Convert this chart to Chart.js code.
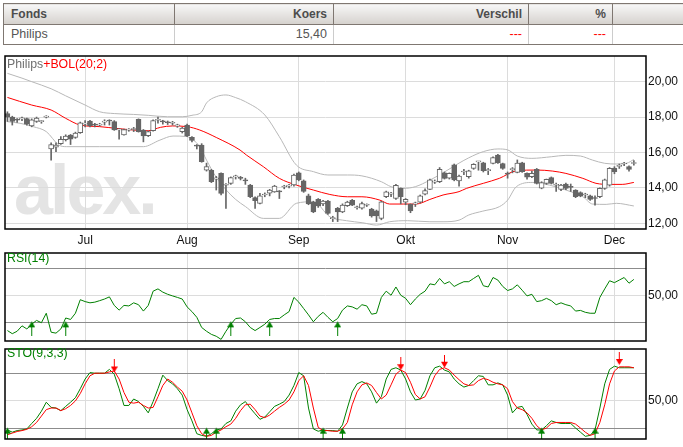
<!DOCTYPE html>
<html>
<head>
<meta charset="utf-8">
<script src="https://cdn.jsdelivr.net/npm/chart.js@4.4.1/dist/chart.umd.min.js"></script>
<style>
    body { margin: 0; background: #fff; width: 683px; height: 447px; overflow: hidden; position: relative; font-family: "Liberation Sans", Arial, sans-serif; }
    #quote { position: absolute; left: 3px; top: 3px; width: 720px; border-collapse: collapse; table-layout: fixed; font-family: "Liberation Sans", Arial, sans-serif; }
    #quote th, #quote td { padding: 0 6px 0 7px; text-align: right; line-height: 1; white-space: nowrap; overflow: hidden; }
    #quote tr.h { height: 21px; }
    #quote tr.d { height: 20px; }
    #quote th { background: linear-gradient(#f7f7f7, #d5d1cd); border: 1px solid #7f7771; color: #4d4d4d; font-weight: bold; font-size: 12px; }
    #quote td { border-left: 1px solid #cccccc; border-right: 1px solid #cccccc; border-bottom: 1px solid #7f7771; color: #555; font-size: 12.5px; }
    #quote td:first-child { border-left: 1px solid #7f7771; }
    #quote .l { text-align: left; }
    #quote .neg { color: #f00; }
    canvas { position: absolute; left: 0; z-index: 1; }
    #wm { position: absolute; left: 14px; top: 155px; font: bold 70px/70px "Liberation Sans", Arial, sans-serif; color: #e4e4e4; letter-spacing: -3px; z-index: 0; }
    .ttl { position: absolute; left: 7px; font-size: 12.3px; line-height: 14px; z-index: 2; }
</style>
</head>
<body>
<table id="quote">
    <colgroup><col style="width:171px"><col style="width:159px"><col style="width:195px"><col style="width:84px"><col style="width:111px"></colgroup>
    <tr class="h"><th class="l">Fonds</th><th>Koers</th><th>Verschil</th><th>%</th><th></th></tr>
    <tr class="d"><td class="l">Philips</td><td>15,40</td><td class="neg">---</td><td class="neg">---</td><td></td></tr>
</table>

<div id="wm">alex.</div>
<canvas id="priceChart" width="683" height="200" style="top:50px"></canvas>
<canvas id="rsiChart" width="683" height="98" style="top:248px"></canvas>
<canvas id="stoChart" width="683" height="103" style="top:344px"></canvas>

<div class="ttl" style="top:57px"><span style="color:#707070">Philips</span><span style="color:#f00">+BOL(20;2)</span></div>
<div class="ttl" style="top:251px;color:#008000">RSI(14)</div>
<div class="ttl" style="top:346px;color:#008000">STO(9,3,3)</div>

<script>
const FONT = '"Liberation Sans", Arial, sans-serif';

// x is the trading day number, month ticks sit on the first trading day
const monthIdx = [16, 37, 60, 82, 103, 125];
const monthNames = ['Jul', 'Aug', 'Sep', 'Okt', 'Nov', 'Dec'];
const priceTicks = [12, 14, 16, 18, 20];

const open = [18.2, 18.0, 17.85, 17.9, 17.92, 17.5, 17.75, 17.74, 18.0, 16.2,
    16.3, 16.5, 16.72, 16.99, 16.85, 17.12, 17.6, 17.78, 17.56, 17.55,
    17.72, 17.8, 17.74, 17.28, 17.0, 17.26, 17.3, 17.87, 17.27, 16.95,
    17.23, 17.82, 17.74, 17.7, 17.65, 17.5, 17.18, 17.55, 16.86, 16.38,
    16.42, 15.0, 15.0, 14.5, 14.82, 14.15, 14.26, 14.62, 14.55, 14.42,
    14.16, 13.45, 13.13, 13.6, 13.7, 13.78, 13.8, 14.05, 14.1, 14.17,
    14.85, 14.4, 13.56, 13.2, 13.35, 13.1, 13.25, 12.27, 12.85, 12.65,
    13.0, 13.3, 12.88, 12.85, 13.02, 12.8, 12.7, 12.28, 13.5, 13.65,
    13.4, 13.98, 13.2, 13.08, 13.1, 13.2, 13.65, 13.92, 14.33, 14.35,
    14.85, 14.55, 15.3, 14.4, 14.9, 14.63, 15.1, 15.47, 15.42, 14.98,
    15.38, 15.86, 15.38, 14.8, 15.03, 14.88, 15.42, 14.82, 14.63, 15.05,
    13.98, 14.26, 14.58, 14.15, 13.92, 14.22, 14.05, 13.88, 13.73, 13.6,
    13.55, 13.42, 13.5, 13.97, 14.16, 15.12, 15.22, 15.35, 15.2, 15.38];
const high = [18.3, 18.05, 17.92, 18.0, 17.95, 17.9, 18.0, 17.8, 18.08, 16.55,
    16.55, 16.9, 17.0, 17.02, 17.15, 17.72, 17.8, 17.82, 17.65, 17.65,
    17.85, 17.85, 17.8, 17.35, 17.32, 17.35, 17.42, 17.9, 17.3, 17.22,
    17.85, 18.0, 17.82, 17.78, 17.76, 17.6, 17.42, 17.6, 16.9, 16.45,
    16.5, 15.4, 15.05, 14.65, 14.85, 14.25, 14.62, 14.72, 14.65, 14.55,
    14.2, 13.5, 13.7, 13.72, 13.92, 14.15, 13.85, 14.15, 14.2, 14.78,
    14.9, 14.45, 13.65, 13.25, 13.4, 13.3, 13.3, 12.4, 12.9, 13.1,
    13.25, 13.35, 12.98, 13.2, 13.1, 12.85, 12.75, 13.25, 13.82, 13.75,
    14.2, 14.0, 13.4, 13.1, 13.2, 13.6, 13.95, 14.5, 14.45, 15.15,
    14.9, 14.85, 15.35, 14.72, 15.05, 15.0, 15.37, 15.5, 15.45, 15.1,
    15.76, 15.9, 15.4, 14.9, 15.15, 15.58, 15.45, 14.85, 14.95, 15.1,
    14.35, 14.5, 14.62, 14.28, 14.2, 14.28, 14.22, 13.9, 13.78, 13.7,
    13.6, 13.55, 14.0, 14.5, 15.15, 15.2, 15.35, 15.45, 15.25, 15.55];
const low = [17.75, 17.55, 17.7, 17.8, 17.55, 17.45, 17.7, 17.65, 17.95, 15.57,
    16.05, 16.45, 16.65, 16.45, 16.8, 17.08, 17.45, 17.45, 17.45, 17.5,
    17.55, 17.55, 17.25, 16.75, 16.98, 17.2, 17.18, 17.15, 16.6, 16.9,
    17.2, 17.65, 17.6, 17.58, 17.55, 17.42, 17.1, 16.9, 16.6, 16.2,
    15.45, 14.95, 14.3, 13.88, 13.6, 12.84, 14.2, 14.5, 14.45, 14.2,
    13.45, 12.84, 13.1, 13.5, 13.55, 13.75, 13.4, 13.95, 14.0, 14.1,
    14.4, 13.75, 13.05, 12.6, 12.9, 13.0, 12.5, 12.1, 12.1, 12.6,
    12.95, 13.0, 12.8, 12.8, 12.95, 12.35, 12.1, 12.2, 13.45, 13.5,
    13.35, 13.1, 13.05, 12.6, 12.95, 13.15, 13.6, 13.9, 14.25, 14.3,
    14.5, 14.5, 14.4, 14.1, 14.75, 14.55, 15.05, 15.0, 14.9, 14.75,
    15.35, 15.38, 15.05, 14.55, 14.85, 14.85, 14.88, 14.5, 14.58, 14.22,
    13.95, 14.2, 14.22, 13.8, 13.85, 13.9, 13.8, 13.45, 13.5, 13.45,
    13.3, 13.03, 13.45, 13.92, 14.1, 14.8, 15.1, 15.25, 14.95, 15.28];
const close = [18.0, 17.75, 17.83, 17.92, 17.6, 17.85, 17.95, 17.76, 18.02, 16.45,
    16.42, 16.75, 16.93, 16.75, 17.1, 17.68, 17.62, 17.5, 17.55, 17.57,
    17.75, 17.78, 17.27, 17.3, 17.3, 17.28, 17.32, 17.18, 16.93, 17.18,
    17.8, 17.85, 17.73, 17.68, 17.66, 17.52, 17.38, 16.93, 16.68, 16.36,
    15.48, 15.2, 14.35, 14.57, 13.69, 14.17, 14.58, 14.64, 14.54, 14.4,
    13.5, 13.28, 13.55, 13.62, 13.88, 14.1, 13.78, 14.07, 14.12, 14.73,
    14.45, 13.8, 13.1, 12.65, 12.98, 13.25, 12.56, 12.28, 12.65, 13.03,
    13.2, 13.03, 12.9, 13.12, 13.04, 12.42, 12.42, 13.22, 13.78, 13.7,
    14.15, 13.5, 13.35, 12.7, 13.12, 13.55, 13.85, 14.45, 14.35, 15.05,
    14.54, 14.82, 14.45, 14.67, 14.92, 14.97, 15.33, 15.48, 14.97, 15.0,
    15.72, 15.42, 15.1, 14.78, 15.05, 15.4, 14.92, 14.6, 14.82, 14.26,
    14.3, 14.48, 14.26, 14.17, 14.16, 13.97, 14.03, 13.5, 13.55, 13.61,
    13.35, 13.4, 13.97, 14.45, 15.1, 14.92, 15.24, 15.36, 15.05, 15.4];

// Bollinger bands at these day positions
const bolUpperX = [0, 3, 5, 9, 12, 16, 19, 22, 26, 29, 33, 36, 38, 40, 41, 43, 45, 47, 49, 53, 56, 59.5, 63, 66, 70, 73, 77, 79, 81.5, 84, 87, 90, 93, 95, 98, 101, 103, 105, 108, 112, 115, 118, 120.5, 123, 125.5, 127.5, 129];
const bolUpper = [20.47, 20.2, 20.0, 19.6, 19.2, 18.68, 18.3, 18.2, 18.15, 18.1, 18.02, 18.02, 18.1, 18.3, 18.8, 19.15, 19.25, 19.1, 18.87, 18.12, 16.89, 15.29, 14.92, 14.73, 14.73, 14.68, 14.35, 14.07, 13.97, 14.07, 14.44, 14.9, 15.4, 15.7, 16.05, 16.2, 16.15, 15.8, 15.67, 15.76, 15.84, 15.8, 15.57, 15.39, 15.35, 15.39, 15.61];
const bolMidX = [0, 5, 9, 12, 15, 19, 22.5, 26, 29, 31.5, 34, 37, 39.6, 43, 47.9, 49.2, 52.7, 56, 59.5, 63, 66.4, 70, 73, 76.7, 78.7, 81.5, 84.2, 87, 89.7, 93, 94.5, 98, 101.3, 104.8, 109, 112.3, 115, 118.5, 121.2, 124, 126.6, 129];
const bolMid = [19.11, 18.68, 18.4, 17.93, 17.55, 17.46, 17.36, 17.27, 17.23, 17.42, 17.5, 17.46, 17.27, 16.85, 16.14, 15.86, 15.2, 14.54, 14.16, 13.88, 13.63, 13.5, 13.5, 13.31, 13.09, 13.09, 13.09, 13.35, 13.6, 13.79, 13.97, 14.26, 14.54, 14.97, 15.01, 14.95, 14.82, 14.54, 14.26, 14.2, 14.2, 14.31];
const bolLowerX = [0, 2.6, 5.3, 8, 10.6, 12.2, 19, 28, 31.4, 34.1, 36.9, 38.3, 39.6, 41, 43, 45, 47, 49, 52.7, 56, 59.5, 63, 66.4, 69.8, 73.2, 76, 78.7, 82.4, 87, 89.7, 93, 95, 97.9, 101.3, 103, 104.8, 108.2, 111.6, 115, 118.5, 120.5, 123.3, 125.4, 129];
const bolLower = [17.74, 17.65, 17.46, 17.18, 16.42, 16.33, 16.33, 16.33, 16.7, 16.93, 16.9, 16.7, 16.33, 15.57, 14.6, 13.9, 13.35, 12.95, 12.28, 12.28, 13.13, 13.22, 12.37, 12.15, 12.03, 11.9, 12.09, 12.15, 12.09, 12.09, 12.18, 12.47, 12.69, 12.94, 13.31, 14.07, 14.31, 14.16, 13.88, 13.5, 13.09, 13.07, 13.13, 12.98];

const rsi = [23.9, 21.6, 23.4, 27.4, 25.1, 28.6, 31.4, 29.7, 36.7, 22.7,
    22.0, 25.1, 33.2, 32.1, 36.7, 46.7, 45.3, 44.4, 44.9, 46.0,
    47.2, 48.8, 42.5, 39.0, 42.5, 42.1, 44.4, 43.0, 38.3, 42.5,
    53.0, 54.7, 52.3, 50.7, 49.5, 48.4, 47.2, 41.4, 37.9, 33.7,
    26.2, 23.4, 21.1, 19.7, 17.4, 23.4, 28.6, 32.8, 33.2, 30.4,
    26.2, 23.9, 26.2, 28.6, 32.1, 32.8, 32.8, 35.5, 37.9, 48.4,
    44.9, 40.2, 35.5, 30.4, 34.4, 37.4, 33.7, 30.4, 32.8, 39.0,
    42.1, 41.4, 39.7, 43.0, 42.1, 36.0, 36.7, 48.4, 53.0, 50.0,
    56.1, 50.0, 47.7, 43.0, 47.2, 50.7, 53.0, 58.4, 57.7, 62.4,
    58.4, 60.0, 56.5, 58.4, 60.0, 60.0, 62.4, 64.7, 57.0, 56.1,
    63.1, 61.2, 56.5, 53.5, 54.7, 57.7, 53.7, 49.5, 50.7, 45.3,
    46.0, 47.7, 46.0, 43.0, 44.4, 43.0, 42.1, 38.3, 38.8, 37.4,
    36.7, 36.7, 48.4, 54.7, 60.7, 59.3, 61.2, 63.1, 58.9, 61.7];
const rsiLevels = [30, 50, 70];
const rsiBuy = [5, 12, 46, 54, 68];

const stoK = [18.6, 16.2, 17.9, 18.6, 19.7, 25.6, 31.2, 38.9, 48.6, 43.0,
    42.3, 39.5, 44.1, 48.6, 53.5, 63.2, 73.7, 80.7, 80.0, 80.0,
    80.0, 84.1, 78.9, 63.2, 45.1, 45.1, 52.1, 49.3, 44.1, 37.1,
    49.3, 63.2, 77.9, 72.0, 68.5, 63.2, 56.3, 40.6, 28.4, 14.5,
    12.7, 11.7, 14.5, 18.6, 19.7, 25.6, 28.4, 38.9, 45.8, 49.3,
    42.3, 36.1, 30.1, 32.6, 38.2, 44.1, 46.5, 49.3, 56.3, 66.7,
    80.7, 77.2, 42.3, 19.7, 17.2, 18.6, 17.9, 17.9, 17.2, 24.0,
    42.3, 59.8, 68.5, 70.9, 68.5, 59.8, 47.6, 54.5, 73.7, 84.1,
    85.9, 83.4, 73.7, 59.8, 51.0, 52.1, 61.5, 77.2, 85.9, 87.6,
    83.4, 81.4, 73.7, 68.5, 65.0, 66.7, 72.0, 77.2, 76.5, 67.4,
    67.4, 69.5, 67.4, 56.3, 37.1, 43.0, 44.1, 35.4, 24.9, 18.6,
    18.6, 23.2, 28.4, 26.7, 25.6, 25.6, 25.6, 20.7, 16.2, 11.7,
    12.7, 18.6, 42.3, 68.5, 84.1, 87.6, 85.9, 85.9, 85.9, 85.9];
const stoD = [13.4, 15.2, 16.9, 17.9, 19.3, 22.1, 26.7, 33.6, 40.6, 42.3,
    42.3, 39.5, 41.6, 45.1, 50.0, 58.0, 68.5, 77.2, 80.0, 80.0,
    80.0, 81.4, 82.4, 73.7, 59.1, 48.6, 47.6, 48.6, 45.1, 42.3,
    43.0, 54.5, 66.7, 73.7, 70.2, 65.0, 60.5, 51.0, 37.1, 23.2,
    14.5, 11.7, 12.7, 16.2, 18.6, 22.1, 24.9, 31.2, 39.5, 45.8,
    46.5, 40.6, 33.6, 31.9, 34.7, 38.9, 43.0, 46.5, 51.0, 59.8,
    72.0, 77.2, 66.7, 42.3, 21.4, 17.9, 17.9, 17.2, 17.2, 19.7,
    26.7, 45.8, 59.8, 67.4, 69.5, 66.7, 59.1, 52.1, 56.3, 67.4,
    78.9, 83.4, 80.7, 70.2, 57.0, 52.1, 54.5, 65.0, 77.2, 84.1,
    85.9, 83.4, 77.9, 73.0, 68.5, 66.7, 67.4, 72.0, 74.4, 73.0,
    70.2, 68.5, 67.4, 63.2, 49.3, 42.3, 40.6, 37.1, 31.2, 23.2,
    18.6, 20.7, 25.6, 26.7, 26.7, 26.7, 26.7, 24.9, 20.7, 16.2,
    12.7, 14.5, 26.7, 45.8, 68.5, 82.4, 86.9, 86.9, 86.9, 85.9];
const stoLevels = [20, 50, 80];
const stoBuy = [0, 41, 43, 65, 69, 110, 121];
const stoSell = [22, 81, 90, 126];
const stoSellAt = [81.9, 84.3, 87, 90];

/* small arrow images used as point styles, the tip sits in the middle */
function arrowImg(color, up) {
    const c = document.createElement('canvas');
    c.width = 7;
    c.height = up ? 28 : 24;
    const g = c.getContext('2d');
    g.fillStyle = color;
    g.beginPath();
    if (up) {
        g.moveTo(3.5, 13); g.lineTo(7, 19); g.lineTo(0, 19);
        g.closePath(); g.fill();
        g.fillRect(3, 19, 1, 9);
    } else {
        g.moveTo(0, 7); g.lineTo(7, 7); g.lineTo(3.5, 13);
        g.closePath(); g.fill();
        g.fillRect(3, 0, 1, 7);
    }
    return c;
}
const greenUp = arrowImg('#008000', true);
const redDown = arrowImg('#ff0000', false);

const boxPlugin = {
    id: 'box',
    afterDraw(chart) {
        const { ctx, chartArea: a } = chart;
        ctx.save();
        ctx.strokeStyle = '#000';
        ctx.lineWidth = 1.5;
        ctx.strokeRect(a.left, a.top, a.right - a.left, a.bottom - a.top);
        ctx.restore();
    }
};

function xAxis(showLabels) {
    return {
        type: 'linear', min: -0.5, max: 131.5, offset: false,
        afterBuildTicks: s => { s.ticks = monthIdx.map(v => ({ value: v })); },
        grid: { color: '#dcdcdc', drawTicks: false, offset: false },
        border: { display: false },
        ticks: {
            display: showLabels, autoSkip: false, maxRotation: 0, padding: 4,
            color: '#111', font: { family: FONT, size: 12 },
            callback: v => monthNames[monthIdx.indexOf(v)]
        },
        afterFit: s => {
            s.height = showLabels ? 21 : 0;
            s.paddingLeft = 0;
            s.paddingRight = 0;
        }
    };
}

// no label overhang: the chart area is set by the layout padding alone
function fixY(s) {
    s.width = 37;
    s.paddingTop = 0;
    s.paddingBottom = 0;
}

function levelAxis(min, max, levels) {
    return {
        position: 'right', min: min, max: max, beginAtZero: false,
        afterBuildTicks: s => { s.ticks = levels.map(v => ({ value: v })); },
        grid: {
            drawTicks: false,
            color: c => c.tick && c.tick.value === 50 ? '#dcdcdc' : '#8c8c8c'
        },
        border: { display: false },
        ticks: {
            padding: 2, color: '#111', font: { family: FONT, size: 12 },
            callback: v => v === 50 ? '50,00' : ''
        },
        afterFit: fixY
    };
}

const baseOptions = {
    responsive: false,
    animation: false,
    events: [],
    plugins: { legend: { display: false }, tooltip: { enabled: false } }
};

const pts = (xs, ys) => xs.map((x, i) => ({ x: x, y: ys[i] }));
const daily = ys => ys.map((y, i) => ({ x: i, y: y }));

new Chart(document.getElementById('priceChart'), {
    type: 'bar',
    data: {
        datasets: [{
            data: open.map((o, i) => ({ x: i, y: [o, close[i]] })),
            backgroundColor: open.map((o, i) => close[i] >= o ? '#fff' : '#666'),
            borderColor: '#666',
            borderWidth: 1,
            borderSkipped: false,
            barThickness: 5,
            minBarLength: 1,
            grouped: false
        }, {
            data: low.map((l, i) => ({ x: i, y: [l, high[i]] })),
            backgroundColor: '#666',
            barThickness: 1,
            grouped: false
        }, {
            type: 'line',
            data: pts(bolMidX, bolMid),
            borderColor: '#ff0000', borderWidth: 1, pointRadius: 0,
            cubicInterpolationMode: 'monotone'
        }, {
            type: 'line',
            data: pts(bolUpperX, bolUpper),
            borderColor: '#b8b8b8', borderWidth: 1, pointRadius: 0,
            cubicInterpolationMode: 'monotone'
        }, {
            type: 'line',
            data: pts(bolLowerX, bolLower),
            borderColor: '#b8b8b8', borderWidth: 1, pointRadius: 0,
            cubicInterpolationMode: 'monotone'
        }]
    },
    options: {
        ...baseOptions,
        layout: { padding: { left: 5, right: 0, top: 6, bottom: 0 } },
        scales: {
            x: xAxis(true),
            y: {
                position: 'right', min: 11.68, max: 21.45, beginAtZero: false,
                afterBuildTicks: s => { s.ticks = priceTicks.map(v => ({ value: v })); },
                grid: { color: '#dcdcdc', drawTicks: false },
                border: { display: false },
                ticks: {
                    padding: 2, color: '#111', font: { family: FONT, size: 12 },
                    callback: v => v.toFixed(2).replace('.', ',')
                },
                afterFit: fixY
            }
        }
    },
    plugins: [boxPlugin]
});

new Chart(document.getElementById('rsiChart'), {
    type: 'line',
    data: {
        datasets: [{
            data: rsiBuy.map(i => ({ x: i, y: 30 })),
            showLine: false, pointStyle: greenUp, pointRadius: 4
        }, {
            data: daily(rsi),
            borderColor: '#008000', borderWidth: 1, pointRadius: 0
        }]
    },
    options: {
        ...baseOptions,
        layout: { padding: { left: 5, right: 0, top: 2, bottom: 3 } },
        scales: { x: xAxis(false), y: levelAxis(16.2, 81.2, rsiLevels) }
    },
    plugins: [boxPlugin]
});

new Chart(document.getElementById('stoChart'), {
    type: 'line',
    data: {
        datasets: [{
            data: stoSell.map((i, k) => ({ x: i, y: stoSellAt[k] })),
            showLine: false, pointStyle: redDown, pointRadius: 4
        }, {
            data: stoBuy.map(i => ({ x: i, y: 20 })),
            showLine: false, pointStyle: greenUp, pointRadius: 4
        }, {
            data: daily(stoD),
            borderColor: '#ff0000', borderWidth: 1, pointRadius: 0
        }, {
            data: daily(stoK),
            borderColor: '#008000', borderWidth: 1, pointRadius: 0
        }]
    },
    options: {
        ...baseOptions,
        layout: { padding: { left: 5, right: 0, top: 2, bottom: 8 } },
        scales: { x: xAxis(false), y: levelAxis(8.8, 106.2, stoLevels) }
    },
    plugins: [boxPlugin]
});
</script>
</body>
</html>
